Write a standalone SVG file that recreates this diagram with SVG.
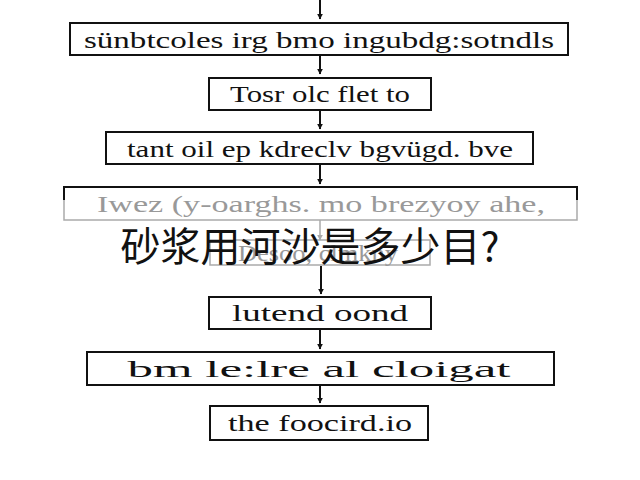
<svg xmlns="http://www.w3.org/2000/svg" width="640" height="480" viewBox="0 0 640 480">
<style>
.box{fill:#fff;stroke:#111;stroke-width:2}
.faded{fill:none;stroke:#aaa;stroke-width:1.5}
.t{font-family:"Liberation Serif","DejaVu Serif",serif;font-size:24px;fill:#111;text-anchor:middle}
.tf{font-family:"Liberation Serif","DejaVu Serif",serif;font-size:24px;fill:#999;text-anchor:middle}
.cn{font-family:"Noto Sans CJK SC","Noto Sans",sans-serif;font-size:40px;fill:#111;text-anchor:middle}
.c{stroke:#111;stroke-width:2;fill:none;marker-end:url(#ah)}
.cf{stroke:#aaa;stroke-width:1.5;fill:none;marker-end:url(#ahf)}
</style>
<defs>
<marker id="ah" viewBox="0 0 10 10" refX="9" refY="5" markerWidth="6" markerHeight="6" markerUnits="userSpaceOnUse" orient="auto"><path d="M0,0 L10,5 L0,10 z" fill="#111"/></marker>
<marker id="ahf" viewBox="0 0 10 10" refX="9" refY="5" markerWidth="6" markerHeight="6" markerUnits="userSpaceOnUse" orient="auto"><path d="M0,0 L10,5 L0,10 z" fill="#aaa"/></marker>
</defs>
<rect width="640" height="480" fill="#fff"/>
<g id="connectors">
<line class="c" x1="320" y1="0" x2="320" y2="19"/>
<line class="c" x1="320" y1="56" x2="320" y2="74"/>
<line class="c" x1="320" y1="111" x2="320" y2="129"/>
<line class="c" x1="320" y1="165" x2="320" y2="184"/>
<line class="cf" x1="320" y1="220" x2="320" y2="240"/>
<line class="c" x1="321" y1="266" x2="321" y2="294"/>
<line class="c" x1="320" y1="330" x2="320" y2="349"/>
<line class="c" x1="320" y1="386" x2="320" y2="403"/>
</g>
<g id="n1"><rect class="box" x="70" y="23" width="498" height="32"/><text class="t" x="319" y="48" textLength="470" lengthAdjust="spacingAndGlyphs">sünbtcoles irg bmo ingubdg:sotndls</text></g>
<g id="n2"><rect class="box" x="209" y="78" width="222" height="32"/><text class="t" x="320" y="102" textLength="180" lengthAdjust="spacingAndGlyphs">Tosr olc flet to</text></g>
<g id="n3"><rect class="box" x="106" y="132" width="427" height="32"/><text class="t" x="320" y="157" textLength="386" lengthAdjust="spacingAndGlyphs">tant oil ep kdreclv bgvügd. bve</text></g>
<g id="n4"><rect class="faded" x="64" y="187" width="513" height="33"/><path d="M64,200 V187 H577 V200" fill="none" stroke="#111" stroke-width="2"/><text class="tf" x="321" y="212" textLength="448" lengthAdjust="spacingAndGlyphs">Iwez (y-oarghs. mo brezyoy ahe,</text></g>
<g id="n5"><rect class="faded" x="210" y="240" width="220" height="25"/><text class="tf" x="318" y="261" textLength="160" lengthAdjust="spacingAndGlyphs">Desoo, clmkny</text></g>
<g id="n6"><rect class="box" x="209" y="297" width="222" height="32"/><text class="t" x="320" y="321" textLength="176" lengthAdjust="spacingAndGlyphs">lutend oond</text></g>
<g id="n7"><rect class="box" x="87" y="352" width="467" height="33"/><text class="t" x="319" y="377" textLength="383" lengthAdjust="spacingAndGlyphs">bm le:lre al cloigat</text></g>
<g id="n8"><rect class="box" x="210" y="406" width="218" height="34"/><text class="t" x="320" y="431" textLength="184" lengthAdjust="spacingAndGlyphs">the foocird.io</text></g>
<text class="cn" x="310" y="261">砂浆用河沙是多少目?</text>
</svg>
